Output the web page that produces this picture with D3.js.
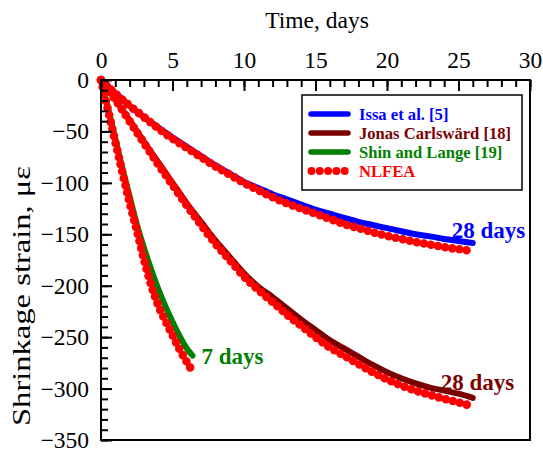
<!DOCTYPE html>
<html>
<head>
<meta charset="utf-8">
<script src="https://cdn.jsdelivr.net/npm/d3@7"></script>
<style>
  body { margin: 0; background: #fff; }
  svg { display: block; }
  text { font-family: "Liberation Serif", "Times New Roman", serif; }
</style>
</head>
<body>
<svg id="chart" width="543" height="452"></svg>
<script>
// ---- Data ----
const issaT   = [0,1,2,3,4,5,6,7,8,9,10,11,12,13,14,15,16,17,18,19,20,21,22,23,24,25,26];
const issaV   = [0,-12.5,-25,-36,-46,-56,-65,-74,-83,-91,-99,-105,-111,-116,-121,-126,-130,-134,-138,-141,-144,-147,-150,-152,-154.5,-156.5,-158.5];

const jonasT  = [0,1,2,3,4,5,6,7,8,9,10,11,12,13,14,15,16,17,18,19,20,21,22,23,24,25,26];
const jonasV  = [0,-19,-39,-60,-80,-100,-120,-138,-156,-172,-188,-201,-211,-222,-233,-243,-253,-261,-269,-277,-284,-290,-295,-299,-302,-305,-309];

const shinT   = [0,0.5,1,1.5,2,2.5,3,3.5,4,4.5,5,5.5,6,6.4];
const shinV   = [0,-28,-57,-86,-113,-140,-163,-184,-203,-220,-235,-249,-261,-268];

const nlfeaIssaT  = [0,1,2,3,4,5,6,7,8,9,10,11,12,13,14,15,16,17,18,19,20,21,22,23,24,25,25.8];
const nlfeaIssaV  = [0,-13,-25,-36,-47,-57,-66,-75,-84,-92,-100,-107,-114,-120,-125,-130,-135,-140,-144,-148,-151.5,-154.5,-157.5,-160,-162.5,-164.5,-166];

const nlfeaJonasT = [0,1,2,3,4,5,6,7,8,9,10,11,12,13,14,15,16,17,18,19,20,21,22,23,24,25,25.8];
const nlfeaJonasV = [0,-19,-40,-61,-82,-102,-122,-141,-159,-175,-191,-204,-216,-228,-239,-250,-260,-268,-276,-284,-291,-297,-302,-306,-310,-313.5,-316.5];

const nlfeaShinT  = [0,0.5,1,1.5,2,2.5,3,3.5,4,4.5,5,5.5,6,6.3];
const nlfeaShinV  = [0,-30,-60,-90,-119,-146,-174,-199,-219,-234,-248,-262,-274,-281];

const xTicks = [0,5,10,15,20,25,30];
const yTicks = [0,-50,-100,-150,-200,-250,-300,-350];

const seriesNames  = ["Issa et al. [5]", "Jonas Carlswärd [18]", "Shin and Lange [19]", "NLFEA"];
const seriesColors = ["#0000ff", "#7a0000", "#008000", "#ff0000"];

const annoText  = ["28 days", "28 days", "7 days"];
const annoAtT   = [26, 26, 6.4];
const annoAtV   = [-158.5, -309, -268];

// ---- Chart ----
const svg = d3.select("#chart");
const x = d3.scaleLinear().domain([0, 30]).range([101, 530]);
const y = d3.scaleLinear().domain([0, -350]).range([80, 440]);

const line = d3.line().x(d => x(d[0])).y(d => y(d[1])).curve(d3.curveMonotoneX);
const zip = (t, v) => t.map((ti, i) => [ti, v[i]]);

// curves
const curves = [[issaT, issaV, 0], [jonasT, jonasV, 1], [shinT, shinV, 2]];
curves.forEach(([t, v, c]) => {
  svg.append("path")
    .attr("d", line(zip(t, v)))
    .attr("fill", "none")
    .attr("stroke", seriesColors[c])
    .attr("stroke-width", 6)
    .attr("stroke-linecap", "round")
    .attr("stroke-linejoin", "round");
});

// NLFEA dotted markers
const nlfea = [[nlfeaIssaT, nlfeaIssaV], [nlfeaJonasT, nlfeaJonasV], [nlfeaShinT, nlfeaShinV]];
nlfea.forEach(([t, v]) => {
  svg.append("path")
    .attr("d", line(zip(t, v)))
    .attr("fill", "none")
    .attr("stroke", seriesColors[3])
    .attr("stroke-width", 8.6)
    .attr("stroke-linecap", "round")
    .attr("stroke-dasharray", "0 7.2");
});

// annotations
const annoDx = [-21, -32, 9];
const annoDy = [-5, -8, 8];
annoText.forEach((s, i) => {
  svg.append("text")
    .attr("x", x(annoAtT[i]) + annoDx[i])
    .attr("y", y(annoAtV[i]) + annoDy[i])
    .attr("fill", seriesColors[i])
    .attr("font-weight", "bold")
    .attr("font-size", 23)
    .text(s);
});

// frame
svg.append("rect")
  .attr("x", x(0)).attr("y", y(0))
  .attr("width", x(30) - x(0)).attr("height", y(-350) - y(0))
  .attr("fill", "none").attr("stroke", "#000").attr("stroke-width", 2);

// top axis (major + minor)
const gTop = svg.append("g").attr("transform", `translate(0,${y(0)})`);
gTop.call(d3.axisTop(x).tickValues(d3.range(0, 31, 1)).tickSize(-7).tickFormat(""));
gTop.call(g => g.selectAll("path.domain").remove());
const gTopMajor = svg.append("g").attr("transform", `translate(0,${y(0)})`)
  .call(d3.axisTop(x).tickValues(xTicks).tickSize(-11).tickPadding(12).tickFormat(d3.format("d")));
gTopMajor.select("path.domain").remove();

// left axis (major + minor)
const gLeft = svg.append("g").attr("transform", `translate(${x(0)},0)`);
gLeft.call(d3.axisLeft(y).tickValues(d3.range(0, -351, -10)).tickSize(-7).tickFormat(""));
gLeft.select("path.domain").remove();
const gLeftMajor = svg.append("g").attr("transform", `translate(${x(0)},0)`)
  .call(d3.axisLeft(y).tickValues(yTicks).tickSize(-11).tickPadding(12).tickFormat(d3.format("d")));
gLeftMajor.select("path.domain").remove();

svg.selectAll(".tick line").attr("stroke", "#000").attr("stroke-width", 2);
svg.selectAll(".tick text")
  .attr("font-family", "Liberation Serif, serif")
  .attr("font-size", 23.5)
  .attr("fill", "#000");

// axis titles
svg.append("text")
  .attr("x", 317).attr("y", 28)
  .attr("text-anchor", "middle")
  .attr("font-size", 23.5)
  .text("Time, days");

svg.append("text")
  .attr("transform", "translate(30,296) rotate(-90)")
  .attr("text-anchor", "middle")
  .attr("font-size", 25)
  .attr("textLength", 260)
  .attr("lengthAdjust", "spacingAndGlyphs")
  .text("Shrinkage strain, με");

// legend
const leg = svg.append("g");
leg.append("rect")
  .attr("x", 302).attr("y", 95).attr("width", 220).attr("height", 95)
  .attr("fill", "#fff").attr("stroke", "#000").attr("stroke-width", 1.5);
seriesNames.forEach((name, i) => {
  const cy = 114 + i * 19;
  if (i < 3) {
    leg.append("line")
      .attr("x1", 311).attr("x2", 348).attr("y1", cy).attr("y2", cy)
      .attr("stroke", seriesColors[i]).attr("stroke-width", 5.5)
      .attr("stroke-linecap", "round");
  } else {
    leg.append("line")
      .attr("x1", 311.5).attr("x2", 345).attr("y1", cy).attr("y2", cy)
      .attr("stroke", seriesColors[i]).attr("stroke-width", 8)
      .attr("stroke-linecap", "round")
      .attr("stroke-dasharray", "0 8.3");
  }
  leg.append("text")
    .attr("x", 359).attr("y", cy + 5.5)
    .attr("fill", seriesColors[i])
    .attr("font-weight", "bold")
    .attr("font-size", 16.6)
    .text(name);
});
</script>
</body>
</html>
